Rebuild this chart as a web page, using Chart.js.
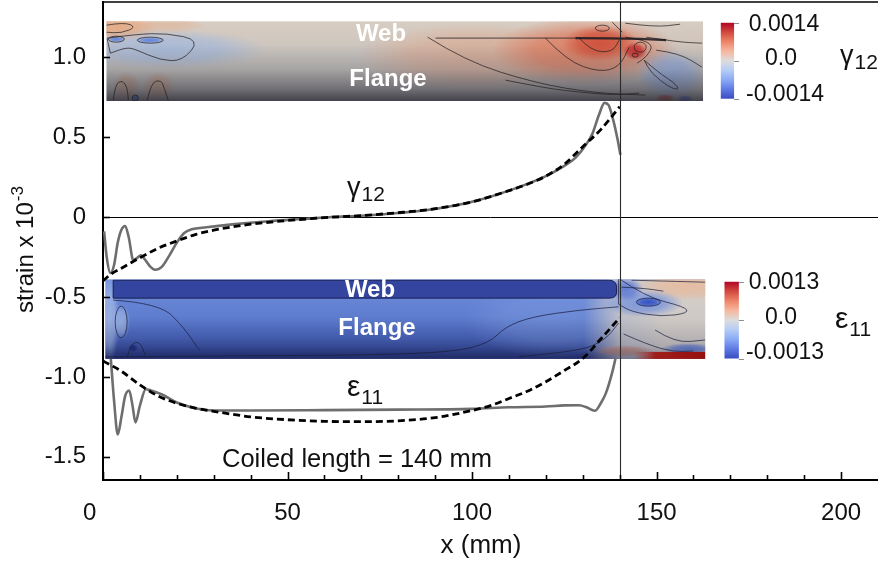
<!DOCTYPE html>
<html>
<head>
<meta charset="utf-8">
<script src="https://cdn.jsdelivr.net/npm/chart.js@4/dist/chart.umd.min.js"></script>
<style>
  html, body { margin: 0; padding: 0; background: #ffffff; }
  #wrap { width: 878px; height: 563px; }
</style>
</head>
<body>
<div id="wrap"><canvas id="c" width="878" height="563"></canvas></div>
<script>
// Shear strain gamma_12 (x 10^-3) along the coiled boom: FE result
const gammaFeX = [0.3, 1, 2, 3, 4, 5, 6, 7, 8.2, 9, 10.3, 11.5, 12.8, 14.1, 16, 18, 20, 22, 24, 28, 35, 45, 55, 62, 70, 80, 90, 100, 110, 120, 125, 128, 130.8, 132.6, 134.4, 135.9, 137, 138, 139.4, 140.2];
const gammaFeY = [-0.09, -0.25, -0.35, -0.30, -0.16, -0.08, -0.056, -0.13, -0.27, -0.26, -0.24, -0.27, -0.31, -0.33, -0.31, -0.24, -0.16, -0.10, -0.077, -0.064, -0.046, -0.026, -0.011, 0.0, 0.008, 0.025, 0.05, 0.095, 0.165, 0.256, 0.32, 0.37, 0.45, 0.52, 0.64, 0.714, 0.70, 0.63, 0.49, 0.39];

// Shear strain gamma_12: analytical model
const gammaThX = [0, 2, 5, 10, 15, 20, 25, 30, 35, 40, 50, 60, 70, 80, 90, 100, 110, 115, 120, 125, 130, 135, 140];
const gammaThY = [-0.40, -0.36, -0.32, -0.255, -0.195, -0.15, -0.11, -0.082, -0.062, -0.045, -0.022, -0.004, 0.009, 0.027, 0.052, 0.095, 0.165, 0.205, 0.256, 0.33, 0.44, 0.55, 0.69];

// Axial strain epsilon_11 (x 10^-3): FE result
const epsFeX = [1, 2, 3, 4, 5, 6, 7.1, 8, 8.8, 10, 11.6, 13, 16, 20, 25, 30, 40, 60, 80, 100, 110, 120, 125, 129, 131, 133.3, 135, 136.3, 138, 139.1, 140];
const epsFeY = [-0.55, -0.85, -1.15, -1.36, -1.25, -1.12, -1.085, -1.18, -1.285, -1.18, -1.077, -1.085, -1.11, -1.16, -1.196, -1.21, -1.21, -1.208, -1.205, -1.20, -1.19, -1.185, -1.178, -1.177, -1.19, -1.212, -1.16, -1.10, -0.97, -0.86, -0.76];

// Axial strain epsilon_11: analytical model
const epsThX = [0, 5, 10, 15, 20, 25, 30, 40, 50, 60, 70, 80, 90, 100, 105, 110, 115, 120, 125, 130, 135, 140];
const epsThY = [-0.90, -0.965, -1.05, -1.12, -1.165, -1.195, -1.215, -1.25, -1.268, -1.278, -1.28, -1.275, -1.255, -1.21, -1.18, -1.135, -1.09, -1.03, -0.96, -0.885, -0.76, -0.63];

// Axis ticks
const xTickLabels = [0, 50, 100, 150, 200];
const xMinorTicks = [10, 20, 30, 40, 60, 70, 80, 90, 110, 120, 130, 140, 160, 170, 180, 190];
const yTickLabels = [-1.5, -1.0, -0.5, 0, 0.5, 1.0];

const coiledLength = 140;
const gammaRange = ['0.0014', '0.0', '-0.0014'];
const epsRange = ['0.0013', '0.0', '-0.0013'];

const FONT = '"Liberation Sans", Arial, Helvetica, sans-serif';
const pts = (xs, ys) => xs.map((x, i) => ({ x: x, y: ys[i] }));

// ---------- drawing helpers ----------
function blob(ctx, cx, cy, rx, ry, stops) {
  ctx.save();
  ctx.translate(cx, cy);
  ctx.scale(rx, ry);
  const g = ctx.createRadialGradient(0, 0, 0, 0, 0, 1);
  stops.forEach(s => g.addColorStop(s[0], s[1]));
  ctx.fillStyle = g;
  ctx.fillRect(-1, -1, 2, 2);
  ctx.restore();
}
function soft(ctx, cx, cy, rx, ry, rgb, a) {
  blob(ctx, cx, cy, rx, ry, [[0, `rgba(${rgb},${a})`], [0.55, `rgba(${rgb},${a * 0.75})`], [1, `rgba(${rgb},0)`]]);
}
function path(ctx, p, close) {
  ctx.beginPath();
  ctx.moveTo(p[0][0], p[0][1]);
  for (let i = 1; i < p.length - 1; i++) {
    const mx = (p[i][0] + p[i + 1][0]) / 2, my = (p[i][1] + p[i + 1][1]) / 2;
    ctx.quadraticCurveTo(p[i][0], p[i][1], mx, my);
  }
  const l = p[p.length - 1];
  ctx.lineTo(l[0], l[1]);
  if (close) ctx.closePath();
  ctx.stroke();
}
function ellipse(ctx, cx, cy, rx, ry, fill) {
  ctx.beginPath();
  ctx.ellipse(cx, cy, rx, ry, 0, 0, Math.PI * 2);
  if (fill) { ctx.fillStyle = fill; ctx.fill(); }
  ctx.stroke();
}
function rectFromData(chart, x0, x1, y0, y1) {
  const sx = chart.scales.x, sy = chart.scales.y;
  const a = sx.getPixelForValue(x0), b = sx.getPixelForValue(x1);
  const t = sy.getPixelForValue(y1), u = sy.getPixelForValue(y0);
  return { x: a, y: t, w: b - a, h: u - t };
}
function subText(ctx, main, sub, x, y, mainSize, subSize, drop, align) {
  ctx.font = `${mainSize}px ${FONT}`;
  const w1 = ctx.measureText(main).width;
  ctx.font = `${subSize}px ${FONT}`;
  const w2 = ctx.measureText(sub).width;
  let sx = x;
  if (align === 'center') sx = x - (w1 + w2) / 2;
  ctx.textAlign = 'left';
  ctx.textBaseline = 'alphabetic';
  ctx.font = `${mainSize}px ${FONT}`;
  ctx.fillText(main, sx, y);
  ctx.font = `${subSize}px ${FONT}`;
  ctx.fillText(sub, sx + w1 + 1, y + drop);
}

// Contour rendering of gamma_12 on the unrolled web + flange (local frame 598 x 80)
function drawGammaField(ctx, r) {
  ctx.save();
  ctx.beginPath(); ctx.rect(r.x, r.y, r.w, r.h); ctx.clip();
  ctx.translate(r.x, r.y);
  ctx.scale(r.w / 598, r.h / 80);
  const base = ctx.createLinearGradient(0, 0, 0, 80);
  base.addColorStop(0, '#d8cdc2');
  base.addColorStop(0.25, '#d4cbc2');
  base.addColorStop(0.5, '#c9c5c2');
  base.addColorStop(1, '#b8b5b4');
  ctx.fillStyle = base;
  ctx.fillRect(0, 0, 598, 80);
  // warm and cool patches
  soft(ctx, 12, 6, 40, 14, '232,168,128', 0.85);
  soft(ctx, 60, 4, 40, 8, '226,180,150', 0.6);
  soft(ctx, 60, 28, 100, 20, '160,186,228', 0.75);
  soft(ctx, 20, 66, 14, 16, '205,150,120', 0.6);
  soft(ctx, 52, 66, 16, 16, '205,150,120', 0.6);
  soft(ctx, 370, 36, 120, 34, '228,160,128', 0.55);
  soft(ctx, 480, 30, 95, 34, '226,120,88', 0.85);
  soft(ctx, 495, 22, 38, 18, '212,78,56', 0.9);
  soft(ctx, 530, 30, 12, 9, '200,44,44', 0.95);
  soft(ctx, 566, 54, 34, 26, '150,176,228', 0.9);
  soft(ctx, 590, 20, 30, 20, '214,200,190', 0.6);
  soft(ctx, 560, 77, 10, 4, '205,70,60', 0.95);
  soft(ctx, 580, 78, 8, 4, '70,100,215', 0.95);
  soft(ctx, 29, 77, 4, 4, '70,110,220', 0.95);
  soft(ctx, 10, 18, 9, 3, '90,130,225', 0.9);
  soft(ctx, 44, 19, 14, 3, '90,130,225', 0.9);
  // shading of the curved flange
  const sh = ctx.createLinearGradient(0, 0, 0, 80);
  sh.addColorStop(0, 'rgba(55,55,65,0)');
  sh.addColorStop(0.3, 'rgba(55,55,65,0.03)');
  sh.addColorStop(0.6, 'rgba(55,55,65,0.22)');
  sh.addColorStop(0.85, 'rgba(50,50,60,0.55)');
  sh.addColorStop(1, 'rgba(45,45,55,0.85)');
  ctx.fillStyle = sh;
  ctx.fillRect(0, 0, 598, 80);
  // contour lines
  ctx.strokeStyle = 'rgba(35,30,30,0.8)';
  ctx.lineWidth = 0.9;
  path(ctx, [[0.7, 17], [30, 13], [60.7, 12], [94, 19], [76, 40], [54, 39], [31, 29], [21, 26], [4, 32]], true);
  ellipse(ctx, 10, 18, 8, 3);
  ellipse(ctx, 44, 19, 13, 3);
  path(ctx, [[0, 4], [18, 1], [30, 6], [15, 12], [0, 11]]);
  path(ctx, [[7, 79], [9, 63], [16, 59], [21, 66], [22, 79]]);
  path(ctx, [[41, 79], [45, 61], [55, 59], [58, 67], [62, 79]]);
  ellipse(ctx, 29, 77, 3, 3);
  path(ctx, [[322, 16], [360, 40], [430, 62], [490, 72], [540, 74]]);
  path(ctx, [[400, 59], [440, 67], [474, 71], [507, 74], [534, 72]]);
  path(ctx, [[474, 17], [486, 30], [507, 31], [514, 19]]);
  path(ctx, [[440, 17], [462, 40], [494, 51], [514, 46], [524, 26]]);
  ellipse(ctx, 497, 7, 7, 3);
  path(ctx, [[507, 1], [517, 11]]);
  ellipse(ctx, 535, 26, 6, 5);
  ellipse(ctx, 530, 34, 3, 2);
  path(ctx, [[520, 16], [535, 18], [548, 24], [542, 35], [532, 42]]);
  path(ctx, [[539, 39], [554, 52], [570, 62], [574, 69], [564, 66], [546, 52], [539, 39]], true);
  path(ctx, [[541, 16], [574, 21], [597, 22]]);
  path(ctx, [[551, 29], [574, 32], [597, 46]]);
  path(ctx, [[520, 2], [550, 6], [575, 3]]);
  // web / flange junction
  ctx.lineWidth = 1.2;
  ctx.strokeStyle = 'rgba(25,25,30,0.6)';
  path(ctx, [[330, 17], [420, 17], [470, 17]]);
  ctx.lineWidth = 2.2;
  ctx.strokeStyle = 'rgba(25,25,30,0.85)';
  path(ctx, [[470, 17], [520, 17], [561, 19]]);
  ctx.restore();
}

// Contour rendering of epsilon_11 on the unrolled web + flange (local frame 602 x 80)
function drawEpsField(ctx, r) {
  ctx.save();
  ctx.beginPath(); ctx.rect(r.x, r.y, r.w, r.h); ctx.clip();
  ctx.translate(r.x, r.y);
  ctx.scale(r.w / 602, r.h / 80);
  const base = ctx.createLinearGradient(0, 0, 0, 80);
  base.addColorStop(0, '#6f8ddc');
  base.addColorStop(0.45, '#6483d6');
  base.addColorStop(0.75, '#4b67c0');
  base.addColorStop(1, '#2a3a88');
  ctx.fillStyle = base;
  ctx.fillRect(0, 0, 602, 80);
  soft(ctx, 450, 40, 90, 40, '130,160,230', 0.5);
  // unloaded free end
  const tail = ctx.createLinearGradient(480, 0, 560, 0);
  tail.addColorStop(0, 'rgba(214,210,206,0)');
  tail.addColorStop(0.45, 'rgba(214,210,206,0.85)');
  tail.addColorStop(1, 'rgba(216,210,204,1)');
  ctx.fillStyle = tail;
  ctx.fillRect(480, 0, 122, 80);
  soft(ctx, 585, 6, 55, 16, '232,186,156', 0.85);
  soft(ctx, 540, 24, 40, 14, '120,150,225', 0.9);
  soft(ctx, 545, 23, 14, 5, '55,85,200', 1);
  soft(ctx, 522, 10, 18, 12, '90,120,215', 0.9);
  soft(ctx, 585, 70, 28, 6, '95,125,218', 0.9);
  soft(ctx, 520, 72, 30, 6, '205,140,120', 0.8);
  // light stripe at the clamped end
  soft(ctx, 4, 40, 10, 45, '168,190,235', 0.9);
  soft(ctx, 16, 43, 9, 18, '170,192,236', 0.8);
  soft(ctx, 28, 69, 5, 4, '30,45,130', 1);
  // shading
  const sh = ctx.createLinearGradient(0, 0, 0, 80);
  sh.addColorStop(0, 'rgba(20,25,60,0)');
  sh.addColorStop(0.5, 'rgba(20,25,60,0.05)');
  sh.addColorStop(0.85, 'rgba(20,25,60,0.22)');
  sh.addColorStop(1, 'rgba(20,25,60,0.45)');
  ctx.fillStyle = sh;
  ctx.fillRect(0, 0, 602, 80);
  // web band
  ctx.fillStyle = '#3445a0';
  ctx.strokeStyle = 'rgba(20,25,70,0.9)';
  ctx.lineWidth = 1;
  ctx.beginPath();
  ctx.moveTo(8, 1);
  ctx.lineTo(505, 1);
  ctx.quadraticCurveTo(513, 1, 513, 8);
  ctx.lineTo(513, 13);
  ctx.quadraticCurveTo(513, 19, 506, 19);
  ctx.lineTo(8, 19);
  ctx.closePath();
  ctx.fill();
  ctx.stroke();
  // dark red strip at the free edge
  const red = ctx.createLinearGradient(530, 0, 602, 0);
  red.addColorStop(0, 'rgba(170,40,30,0)');
  red.addColorStop(0.3, 'rgba(160,25,20,0.95)');
  red.addColorStop(1, 'rgba(150,15,15,1)');
  ctx.fillStyle = red;
  ctx.fillRect(530, 73, 72, 7);
  // contour lines
  ctx.strokeStyle = 'rgba(25,30,60,0.8)';
  ctx.lineWidth = 0.9;
  path(ctx, [[8, 21], [55, 24], [80, 50], [92, 68], [95, 71]]);
  ellipse(ctx, 16, 43, 6, 16);
  path(ctx, [[22, 78], [26, 64], [35, 63], [40, 76]]);
  path(ctx, [[0, 78], [120, 77], [275, 76], [351.7, 72.7], [385, 64], [401.7, 47.7], [428, 37.7], [475, 31], [515, 27.7]]);
  path(ctx, [[415, 77.7], [475, 72.7], [501.7, 61], [515, 44]]);
  path(ctx, [[515, -1], [541.7, 17.7], [581.7, 27.7], [585, 34], [558, 37.7], [528, 32.7], [515, 25]], true);
  ellipse(ctx, 545, 23, 12, 4);
  path(ctx, [[528, 1], [565, 2], [602, 3]]);
  path(ctx, [[551.7, 51], [571.7, 64], [602, 61]]);
  path(ctx, [[518, 8], [540, 9], [560, 12]]);
  path(ctx, [[520, 55], [545, 66], [570, 73], [590, 72]]);
  ctx.restore();
}

function colorBar(ctx, r) {
  const g = ctx.createLinearGradient(0, r.y, 0, r.y + r.h);
  g.addColorStop(0, '#b40426');
  g.addColorStop(0.125, '#d1493f');
  g.addColorStop(0.25, '#ee8468');
  g.addColorStop(0.375, '#f6b8a0');
  g.addColorStop(0.5, '#dcdcdc');
  g.addColorStop(0.625, '#b5cdf5');
  g.addColorStop(0.75, '#8aaaf5');
  g.addColorStop(0.875, '#5e7ae4');
  g.addColorStop(1, '#3b4cc0');
  ctx.fillStyle = g;
  ctx.fillRect(r.x, r.y, r.w, r.h);
  ctx.strokeStyle = '#8c8c8c';
  ctx.lineWidth = 1;
  [0, 0.5, 1].forEach(f => {
    const yy = Math.round(r.y + f * r.h) + 0.5;
    ctx.beginPath();
    ctx.moveTo(r.x + r.w, yy);
    ctx.lineTo(r.x + r.w + 5, yy);
    ctx.stroke();
  });
}

const decor = {
  id: 'decor',
  beforeDatasetsDraw(chart) {
    const ctx = chart.ctx, a = chart.chartArea, sy = chart.scales.y;
    const y0 = Math.round(sy.getPixelForValue(0)) + 0.5;
    ctx.save();
    ctx.strokeStyle = '#000';
    ctx.lineWidth = 1;
    ctx.beginPath();
    ctx.moveTo(a.left, y0);
    ctx.lineTo(a.right, y0);
    ctx.stroke();
    ctx.restore();
  },
  afterDatasetDraw(chart, args) {
    if (args.index !== 2) return;
    const ctx = chart.ctx;
    const rg = rectFromData(chart, 0.9, 162.6, 0.725, 1.225);
    const re = rectFromData(chart, 0.6, 163.2, -0.8875, -0.389);
    drawGammaField(ctx, rg);
    drawEpsField(ctx, re);
    ctx.save();
    ctx.fillStyle = '#ffffff';
    ctx.textAlign = 'center';
    ctx.textBaseline = 'alphabetic';
    ctx.font = `bold 24px ${FONT}`;
    const sy = chart.scales.y;
    ctx.fillText('Web', 381, sy.getPixelForValue(1.1));
    ctx.fillText('Flange', 388, sy.getPixelForValue(0.82));
    ctx.fillText('Web', 370, sy.getPixelForValue(-0.5));
    ctx.fillText('Flange', 377, sy.getPixelForValue(-0.738));
    ctx.restore();
  },
  afterDatasetsDraw(chart) {
    const ctx = chart.ctx, a = chart.chartArea;
    const sx = chart.scales.x, sy = chart.scales.y;
    ctx.save();
    // end of the coiled region
    const xc = Math.round(sx.getPixelForValue(coiledLength)) + 0.5;
    ctx.strokeStyle = '#2a2a2a';
    ctx.lineWidth = 1.1;
    ctx.beginPath();
    ctx.moveTo(xc, a.top);
    ctx.lineTo(xc, a.bottom);
    ctx.stroke();
    // frame top
    ctx.strokeStyle = '#000';
    ctx.lineWidth = 1.5;
    ctx.beginPath();
    ctx.moveTo(a.left, a.top);
    ctx.lineTo(a.right, a.top);
    ctx.stroke();
    // inward tick marks
    ctx.lineWidth = 1.6;
    yTickLabels.forEach(v => {
      const y = Math.round(sy.getPixelForValue(v)) + 0.5;
      ctx.beginPath(); ctx.moveTo(a.left, y); ctx.lineTo(a.left + 7, y); ctx.stroke();
    });
    xTickLabels.forEach(v => {
      const x = Math.round(sx.getPixelForValue(v)) + 0.5;
      ctx.beginPath(); ctx.moveTo(x, a.bottom); ctx.lineTo(x, a.bottom - 8); ctx.stroke();
    });
    xMinorTicks.forEach(v => {
      const x = Math.round(sx.getPixelForValue(v)) + 0.5;
      ctx.beginPath(); ctx.moveTo(x, a.bottom); ctx.lineTo(x, a.bottom - 5); ctx.stroke();
    });
    // colour bars
    colorBar(ctx, rectFromData(chart, 167.4, 171.0, 0.74, 1.215));
    colorBar(ctx, rectFromData(chart, 168.4, 172.3, -0.885, -0.405));
    ctx.fillStyle = '#111';
    ctx.textAlign = 'center';
    ctx.textBaseline = 'middle';
    ctx.font = `23px ${FONT}`;
    const cbx = 784;
    ctx.fillText(gammaRange[0], cbx, sy.getPixelForValue(1.202));
    ctx.fillText(gammaRange[1], cbx - 3, sy.getPixelForValue(0.99));
    ctx.fillText(gammaRange[2], cbx + 1, sy.getPixelForValue(0.763));
    ctx.fillText(epsRange[0], cbx, sy.getPixelForValue(-0.413));
    ctx.fillText(epsRange[1], cbx - 3, sy.getPixelForValue(-0.631));
    ctx.fillText(epsRange[2], cbx + 1, sy.getPixelForValue(-0.85));
    // component symbols
    subText(ctx, '\u03B3', '12', 840, sy.getPixelForValue(0.96), 27, 21, 5, 'left');
    subText(ctx, '\u03B5', '11', 835, sy.getPixelForValue(-0.695), 30, 21, 8, 'left');
    subText(ctx, '\u03B3', '12', 347, sy.getPixelForValue(0.13), 27, 21, 5, 'left');
    subText(ctx, '\u03B5', '11', 347, sy.getPixelForValue(-1.12), 30, 21, 8, 'left');
    // annotation
    ctx.font = `25.5px ${FONT}`;
    ctx.textAlign = 'left';
    ctx.textBaseline = 'alphabetic';
    ctx.fillText('Coiled length = ' + coiledLength + ' mm', 222, sy.getPixelForValue(-1.565));
    // axis titles
    ctx.textAlign = 'center';
    ctx.font = `26px ${FONT}`;
    ctx.fillText('x (mm)', 481, 553);
    ctx.save();
    ctx.translate(33, 250);
    ctx.rotate(-Math.PI / 2);
    ctx.font = `24px ${FONT}`;
    const t1 = 'strain x 10';
    const w1 = ctx.measureText(t1).width;
    ctx.font = `17px ${FONT}`;
    const w2 = ctx.measureText('-3').width;
    const s0 = -(w1 + w2) / 2;
    ctx.textAlign = 'left';
    ctx.font = `24px ${FONT}`;
    ctx.fillText(t1, s0, 0);
    ctx.font = `17px ${FONT}`;
    ctx.fillText('-3', s0 + w1 + 1, -10);
    ctx.restore();
    ctx.restore();
  }
};

const tickFont = { family: FONT, size: 24 };

new Chart(document.getElementById('c'), {
  type: 'line',
  data: {
    datasets: [
      { label: 'eps11 analytical', data: pts(epsThX, epsThY), borderColor: '#000', borderWidth: 2.8, borderDash: [7, 4], pointRadius: 0, cubicInterpolationMode: 'monotone', fill: false },
      { label: 'gamma12 analytical', data: pts(gammaThX, gammaThY), borderColor: '#000', borderWidth: 2.8, borderDash: [7, 4], pointRadius: 0, cubicInterpolationMode: 'monotone', fill: false },
      { label: 'eps11 FE', data: pts(epsFeX, epsFeY), borderColor: '#6e6e6e', borderWidth: 2.6, pointRadius: 0, cubicInterpolationMode: 'monotone', fill: false },
      { label: 'gamma12 FE', data: pts(gammaFeX, gammaFeY), borderColor: '#6e6e6e', borderWidth: 2.6, pointRadius: 0, cubicInterpolationMode: 'monotone', fill: false }
    ]
  },
  options: {
    responsive: false,
    animation: false,
    devicePixelRatio: 1,
    layout: { padding: { top: 2, right: 0, left: 0, bottom: 0 } },
    plugins: { legend: { display: false }, tooltip: { enabled: false } },
    scales: {
      x: {
        type: 'linear', min: 0, max: 210,
        afterBuildTicks: s => { s.ticks = xTickLabels.map(v => ({ value: v })); },
        afterFit: s => { s.height = 83; s.paddingLeft = 0; s.paddingRight = 0; },
        grid: { display: false },
        border: { display: true, color: '#000', width: 2 },
        ticks: { font: tickFont, color: '#111', padding: 11, maxRotation: 0, autoSkip: false,
                 callback: v => (v === 0 ? '0    ' : String(v)) }
      },
      y: {
        type: 'linear', min: -1.645, max: 1.345,
        afterBuildTicks: s => { s.ticks = yTickLabels.map(v => ({ value: v })); },
        afterFit: s => { s.width = 103; s.paddingTop = 0; s.paddingBottom = 0; },
        grid: { display: false },
        border: { display: true, color: '#000', width: 2 },
        ticks: { font: tickFont, color: '#111', padding: 9, autoSkip: false,
                 callback: v => (v === 0 ? '0' : v.toFixed(1)) }
      }
    }
  },
  plugins: [decor]
});
</script>
</body>
</html>
